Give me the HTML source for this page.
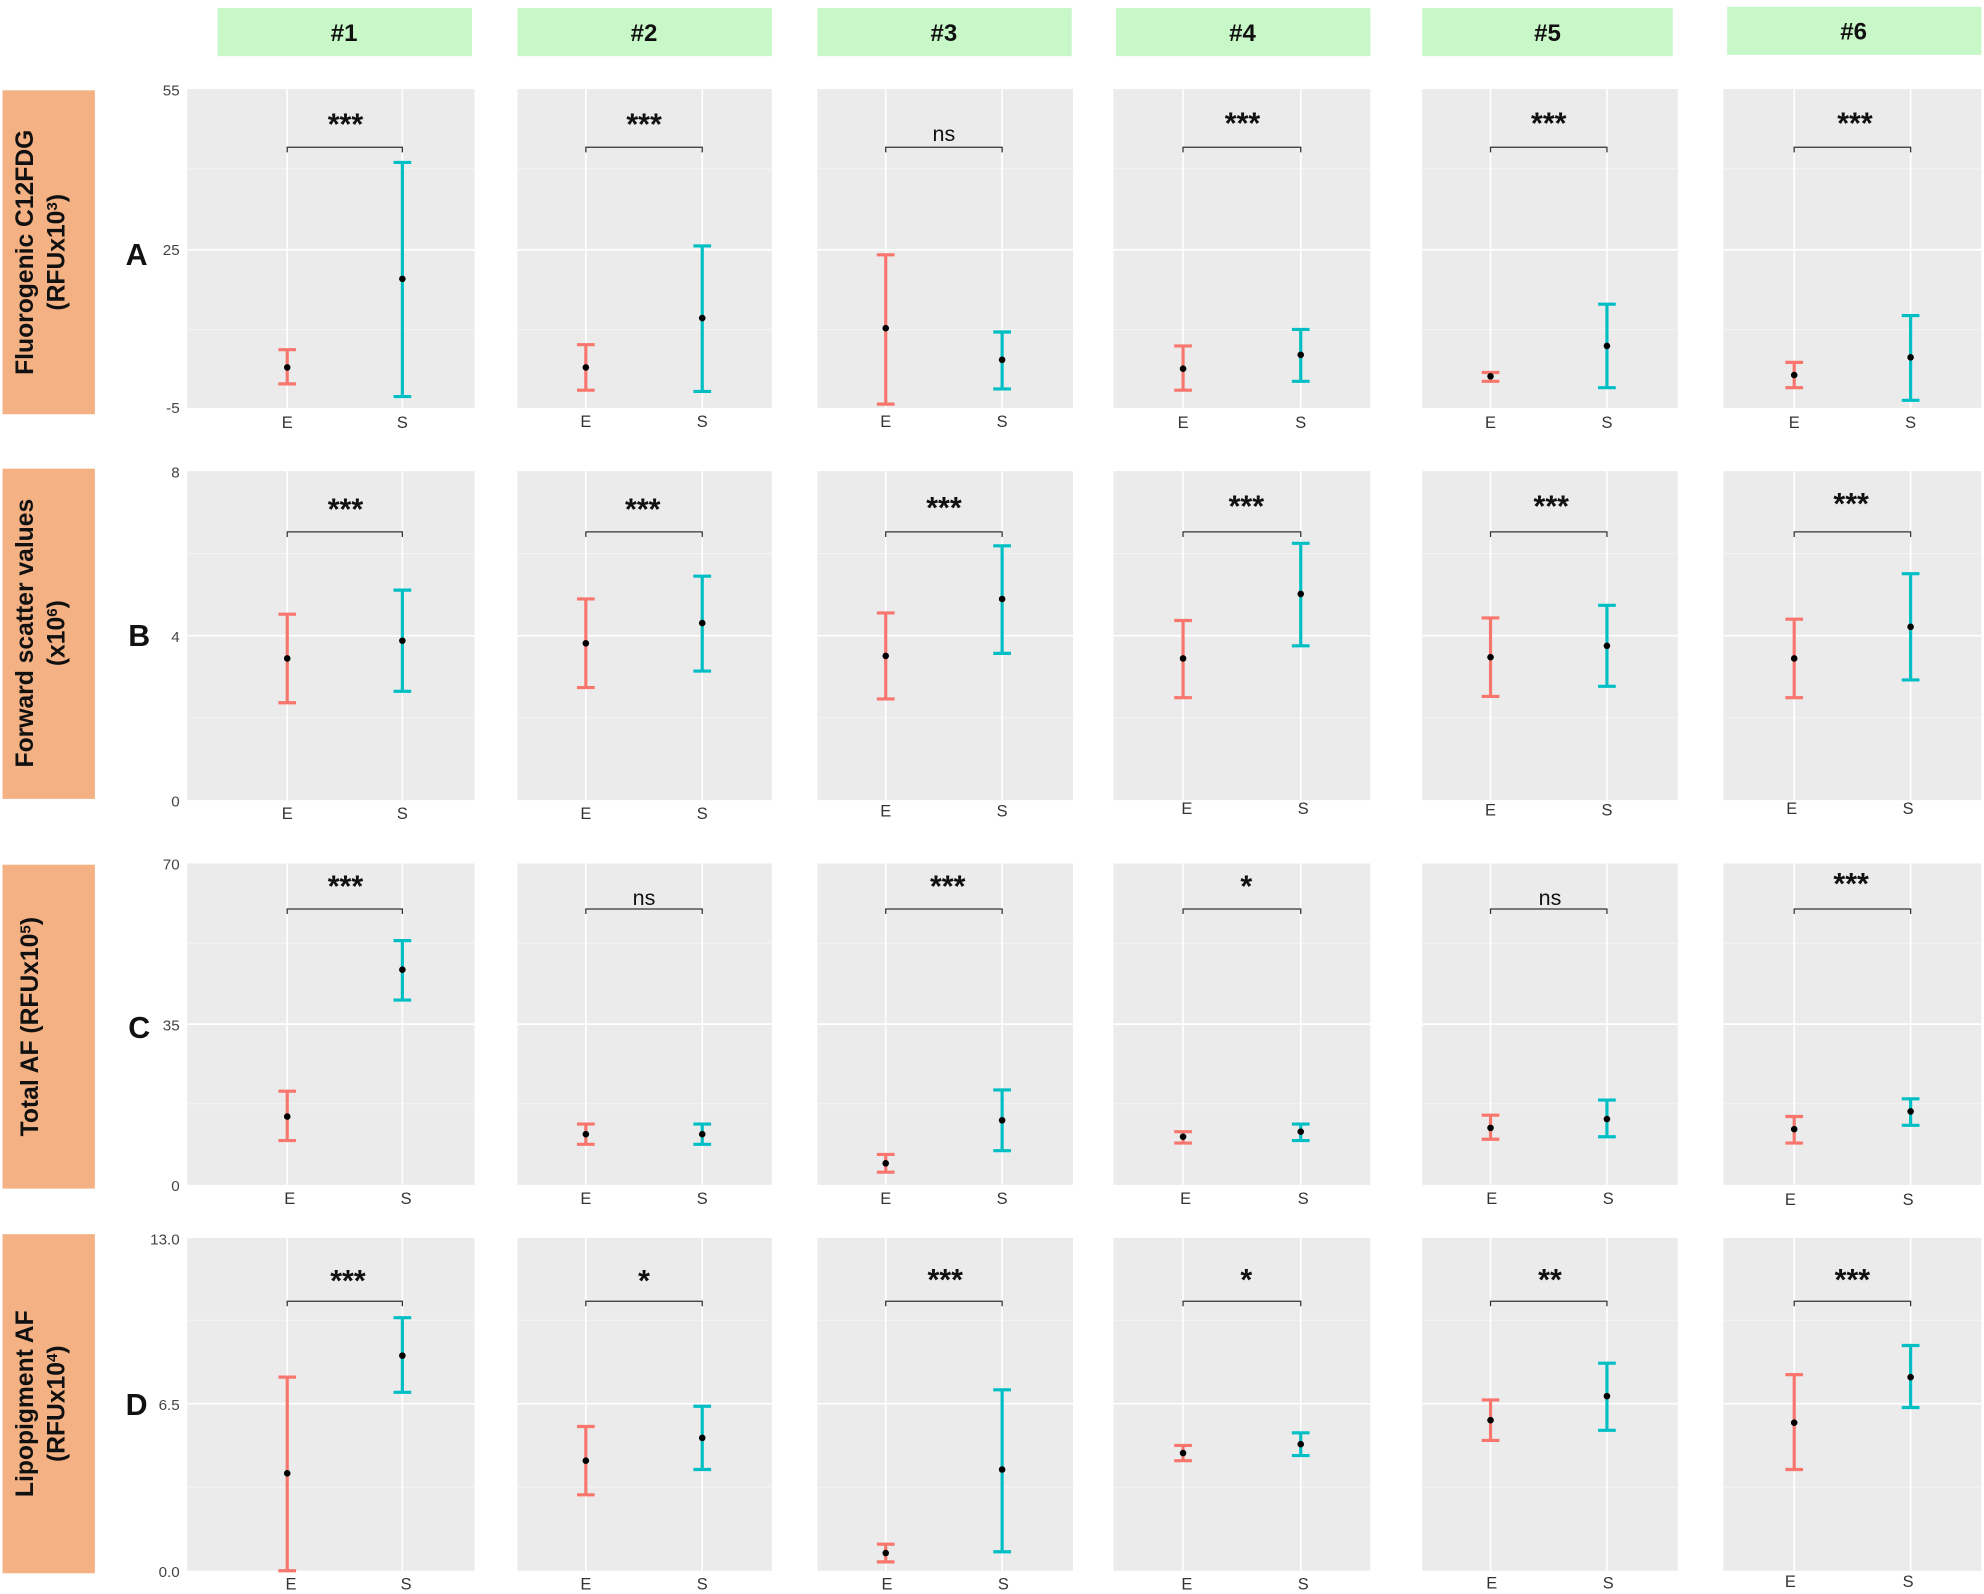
<!DOCTYPE html>
<html><head><meta charset="utf-8">
<style>
html,body{margin:0;padding:0;background:#fff;}
svg{display:block;}
text{font-family:"Liberation Sans",sans-serif;}
</style></head>
<body>
<svg id="s" width="1984" height="1594" viewBox="0 0 1568 1259" xmlns="http://www.w3.org/2000/svg">
<rect width="1568" height="1259" fill="#fff"/>
<g id="shapes"></g>
<g fill="#c8f7c8">
<rect x="172" y="6" width="201" height="38"/><rect x="409" y="6" width="201" height="38"/>
<rect x="646" y="6" width="201" height="38"/><rect x="882" y="6" width="201" height="38"/>
<rect x="1124" y="6" width="198" height="38"/><rect x="1365" y="5" width="201" height="38"/>
</g>
<g font-size="19" font-weight="bold" text-anchor="middle" fill="#111">
<text x="272" y="32">#1</text><text x="509" y="32">#2</text><text x="746" y="32">#3</text>
<text x="982" y="32">#4</text><text x="1223" y="32">#5</text><text x="1465" y="31">#6</text>
</g>
<g fill="#f4b183">
<rect x="2" y="71" width="73" height="256"/><rect x="2" y="370" width="73" height="261"/>
<rect x="2" y="683" width="73" height="256"/><rect x="2" y="975" width="73" height="268"/>
</g>
<g font-size="19.5" font-weight="bold" text-anchor="middle" fill="#111">
<text transform="translate(26,199) rotate(-90)">Fluorogenic C12FDG</text>
<text transform="translate(51,199) rotate(-90)">(RFUx10<tspan font-size="12" dy="-6">3</tspan><tspan dy="6">)</tspan></text>
<text transform="translate(26,500) rotate(-90)">Forward scatter values</text>
<text transform="translate(51,500) rotate(-90)">(x10<tspan font-size="12" dy="-6">6</tspan><tspan dy="6">)</tspan></text>
<text transform="translate(30,811) rotate(-90)">Total AF (RFUx10<tspan font-size="12" dy="-6">5</tspan><tspan dy="6">)</tspan></text>
<text transform="translate(26,1109) rotate(-90)">Lipopigment AF</text>
<text transform="translate(51,1109) rotate(-90)">(RFUx10<tspan font-size="12" dy="-6">4</tspan><tspan dy="6">)</tspan></text>
</g>
<g font-size="24" font-weight="bold" text-anchor="middle" fill="#111">
<text x="108" y="209">A</text><text x="110" y="510">B</text><text x="110" y="820">C</text><text x="108" y="1118">D</text>
</g>
<g font-size="12" text-anchor="end" fill="#444">
<text x="142" y="75">55</text><text x="142" y="201">25</text><text x="142" y="326">-5</text>
<text x="142" y="377">8</text><text x="142" y="507">4</text><text x="142" y="637">0</text>
<text x="142" y="687">70</text><text x="142" y="814">35</text><text x="142" y="941">0</text>
<text x="142" y="983">13.0</text><text x="142" y="1114">6.5</text><text x="142" y="1246">0.0</text>
</g>
<g font-size="13" text-anchor="middle" fill="#333">
<text x="227" y="338">E</text><text x="318" y="338">S</text><text x="463" y="337">E</text><text x="555" y="337">S</text>
<text x="700" y="337">E</text><text x="792" y="337">S</text><text x="935" y="338">E</text><text x="1028" y="338">S</text>
<text x="1178" y="338">E</text><text x="1270" y="338">S</text><text x="1418" y="338">E</text><text x="1510" y="338">S</text>
<text x="227" y="647">E</text><text x="318" y="647">S</text><text x="463" y="647">E</text><text x="555" y="647">S</text>
<text x="700" y="645">E</text><text x="792" y="645">S</text><text x="938" y="643">E</text><text x="1030" y="643">S</text>
<text x="1178" y="644">E</text><text x="1270" y="644">S</text><text x="1416" y="643">E</text><text x="1508" y="643">S</text>
<text x="229" y="951">E</text><text x="321" y="951">S</text><text x="463" y="951">E</text><text x="555" y="951">S</text>
<text x="700" y="951">E</text><text x="792" y="951">S</text><text x="937" y="951">E</text><text x="1030" y="951">S</text>
<text x="1179" y="951">E</text><text x="1271" y="951">S</text><text x="1415" y="952">E</text><text x="1508" y="952">S</text>
<text x="230" y="1256">E</text><text x="321" y="1256">S</text><text x="463" y="1256">E</text><text x="555" y="1256">S</text>
<text x="701" y="1256">E</text><text x="793" y="1256">S</text><text x="938" y="1256">E</text><text x="1030" y="1256">S</text>
<text x="1179" y="1255">E</text><text x="1271" y="1255">S</text><text x="1415" y="1254">E</text><text x="1508" y="1254">S</text>
</g>
<g font-size="24" font-weight="bold" text-anchor="middle" fill="#111">
<text x="273" y="106">***</text><text x="509" y="106">***</text><text x="982" y="105">***</text>
<text x="1224" y="105">***</text><text x="1466" y="105">***</text>
<text x="273" y="410">***</text><text x="508" y="410">***</text><text x="746" y="409">***</text>
<text x="985" y="408">***</text><text x="1226" y="408">***</text><text x="1463" y="406">***</text>
<text x="273" y="708">***</text><text x="749" y="708">***</text><text x="985" y="708">*</text><text x="1463" y="706">***</text>
<text x="275" y="1020">***</text><text x="509" y="1020">*</text><text x="747" y="1019">***</text>
<text x="985" y="1019">*</text><text x="1225" y="1019">**</text><text x="1464" y="1019">***</text>
</g>
<g font-size="17" text-anchor="middle" fill="#111">
<text x="746" y="111">ns</text><text x="509" y="715">ns</text><text x="1225" y="715">ns</text>
</g>
<script>
(function(){
var g=document.getElementById('shapes'),NS='http://www.w3.org/2000/svg';
function el(t,a){var e=document.createElementNS(NS,t);for(var k in a)e.setAttribute(k,a[k]);g.appendChild(e);return e;}
var cols=[[148,375,227,318],[409,610,463,555],[646,848,700,792],[880,1083,935,1028],[1124,1326,1178,1270],[1362,1566,1418,1510]];
var rows=[{t:70,b:322,maj:[197],min:[133,260],br:116},
{t:372,b:632,maj:[502],min:[437,567],br:420},
{t:682,b:936,maj:[809],min:[745,872],br:718},
{t:978,b:1241,maj:[1109],min:[1043,1175],br:1028}];
var d=[
[[290,276,303,220,128,313],[290,272,308,251,194,309],[259,201,319,284,262,307],[291,273,308,280,260,301],[297,294,301,273,240,306],[296,286,306,282,249,316]],
[[520,485,555,506,466,546],[508,473,543,492,455,530],[518,484,552,473,431,516],[520,490,551,469,429,510],[519,488,550,510,478,542],[520,489,551,495,453,537]],
[[882,862,901,766,743,790],[896,888,904,896,888,904],[919,912,926,885,861,909],[898,894,903,894,888,901],[891,881,900,884,869,898],[892,882,903,878,868,889]],
[[1164,1088,1241,1071,1041,1100],[1154,1127,1181,1136,1111,1161],[1227,1220,1234,1161,1098,1226],[1148,1142,1154,1141,1132,1150],[1122,1106,1138,1103,1077,1130],[1124,1086,1161,1088,1063,1112]]];
rows.forEach(function(r,ri){cols.forEach(function(c,ci){
 el('rect',{x:c[0],y:r.t,width:c[1]-c[0],height:r.b-r.t,fill:'#ebebeb'});
 r.min.forEach(function(y){el('line',{x1:c[0],x2:c[1],y1:y,y2:y,stroke:'#f5f5f5','stroke-width':0.7});});
 r.maj.forEach(function(y){el('line',{x1:c[0],x2:c[1],y1:y,y2:y,stroke:'#fff','stroke-width':1.3});});
 [c[2],c[3]].forEach(function(x){el('line',{x1:x,x2:x,y1:r.t,y2:r.b,stroke:'#fff','stroke-width':1.3});});
 el('path',{d:'M'+c[2]+' '+(r.br+4)+'V'+r.br+'H'+c[3]+'V'+(r.br+4),fill:'none',stroke:'#333','stroke-width':1});
 var v=d[ri][ci];
 [[c[2],v[0],v[1],v[2],'#f8766d'],[c[3],v[3],v[4],v[5],'#00bfc4']].forEach(function(b){
  var x=b[0];
  el('line',{x1:x,x2:x,y1:b[2],y2:b[3],stroke:b[4],'stroke-width':2.5});
  el('line',{x1:x-7,x2:x+7,y1:b[2],y2:b[2],stroke:b[4],'stroke-width':2.5});
  el('line',{x1:x-7,x2:x+7,y1:b[3],y2:b[3],stroke:b[4],'stroke-width':2.5});
  el('circle',{cx:x,cy:b[1],r:2.6,fill:'#000'});
 });
});});
})();
</script>
</svg>
</body></html>
